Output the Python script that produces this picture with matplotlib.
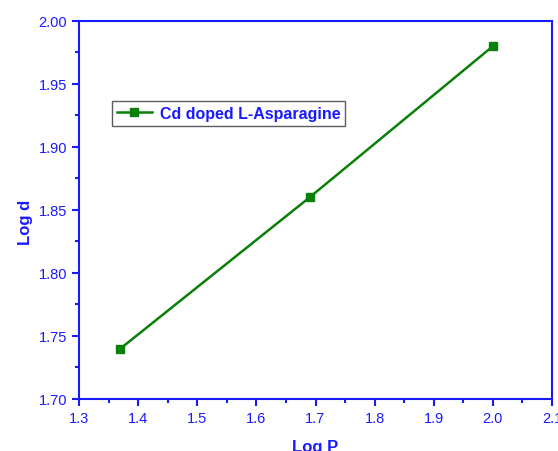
import matplotlib
matplotlib.use("Agg")
import matplotlib.pyplot as plt
from matplotlib.ticker import MultipleLocator

plt.rcParams['font.family'] = ['Liberation Sans', 'DejaVu Sans']

log_p = [1.37, 1.69, 2.00]
log_d = [1.74, 1.86, 1.98]
series_label = "Cd doped L-Asparagine"

blue = "#1a1aff"
green = "#0a800a"

fig = plt.figure(figsize=(5.58, 4.52), dpi=100)
ax = fig.add_axes([79/558, 1 - 400/452, (552-79)/558, (400-22)/452])

ax.plot(log_p, log_d, color=green, lw=1.8, marker='s', markersize=5.5,
        markerfacecolor=green, markeredgecolor=green, label=series_label)

ax.set_xlim(1.3, 2.1)
ax.set_ylim(1.70, 2.00)
ax.xaxis.set_major_locator(MultipleLocator(0.1))
ax.xaxis.set_minor_locator(MultipleLocator(0.05))
ax.yaxis.set_major_locator(MultipleLocator(0.05))
ax.yaxis.set_minor_locator(MultipleLocator(0.025))
ax.xaxis.set_major_formatter(plt.FormatStrFormatter('%.1f'))
ax.yaxis.set_major_formatter(plt.FormatStrFormatter('%.2f'))

for s in ax.spines.values():
    s.set_color(blue)
    s.set_linewidth(1.5)
ax.tick_params(which='both', direction='out', colors=blue, labelcolor=blue,
               top=False, right=False, width=1.5, labelsize=10.5)
ax.tick_params(which='major', length=5)
ax.tick_params(which='minor', length=3)

ax.set_xlabel("Log P", color=blue, fontsize=12, fontweight='bold', labelpad=10)
ax.set_ylabel("Log d", color=blue, fontsize=12, fontweight='bold')
ax.yaxis.set_label_coords(-0.098, 0.47)

leg = ax.legend(loc='upper left', bbox_to_anchor=((112-79)/473, (400-102)/378),
                frameon=True, fancybox=False, borderpad=0.3, handlelength=2.2,
                handletextpad=0.5, borderaxespad=0,
                prop={'weight': 'bold', 'size': 11.5})
leg.get_frame().set_edgecolor('#333333')
leg.get_frame().set_linewidth(1.0)
for t in leg.get_texts():
    t.set_color(blue)

fig.savefig("out.png", dpi=100)
